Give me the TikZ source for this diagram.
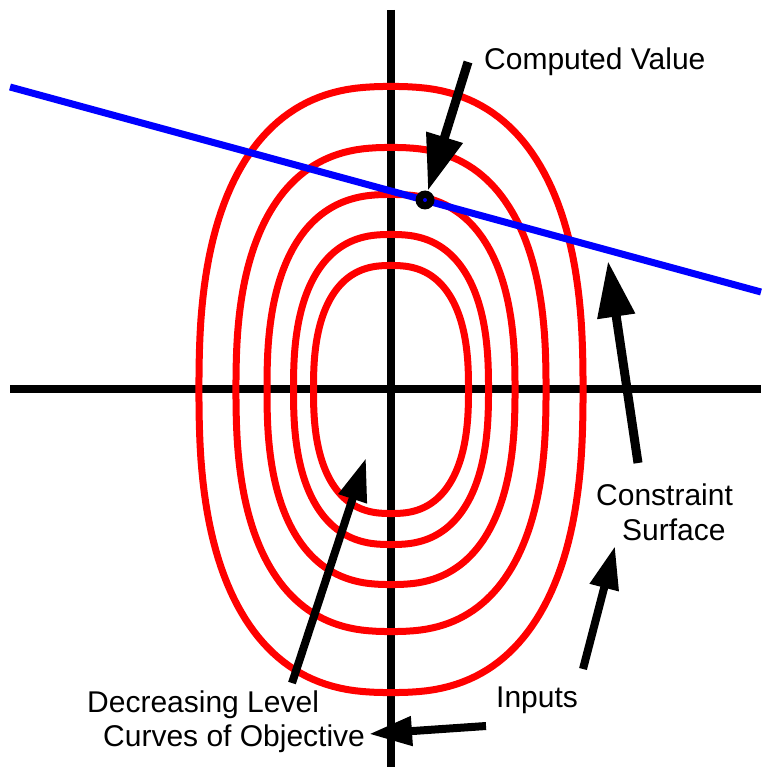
\documentclass[tikz,border=0pt]{standalone}
\usepackage{fontspec}
\setmainfont{Liberation Sans}
\usepackage{tikz}
\usetikzlibrary{arrows.meta}

\begin{document}
\begin{tikzpicture}[
  x=1pt, y=-1pt,
  axis/.style={line width=8pt},
  level/.style={red, line width=7pt, line join=round},
  constraint/.style={blue, line width=7pt},
  optimum/.style={circle, fill=black, inner sep=0pt, minimum size=19pt},
  txt/.style={font=\fontsize{30}{34}\selectfont, inner sep=0pt, anchor=base west},
  bigarrow/.style={-{Triangle[length=56pt,width=36pt]}, line width=9pt},
  arrow/.style={-{Triangle[length=43pt,width=28pt]}, line width=8pt}
]
\useasboundingbox (0,0) rectangle (761,767);

% axes
\draw[axis] (391,10) -- (391,767);
\draw[axis] (10,389) -- (761,389);

% level curves
\draw[level] plot[domain=1:361, samples=181] ({391+192*sign(cos(\x))*pow(abs(cos(\x)),0.8)}, {389.5+303*sign(sin(\x))*pow(abs(sin(\x)),0.8)}) -- cycle;
\draw[level] plot[domain=1:361, samples=181] ({391+155*sign(cos(\x))*pow(abs(cos(\x)),0.8)}, {389.5+242*sign(sin(\x))*pow(abs(sin(\x)),0.8)}) -- cycle;
\draw[level] plot[domain=1:361, samples=181] ({391+124*sign(cos(\x))*pow(abs(cos(\x)),0.8)}, {389.5+195*sign(sin(\x))*pow(abs(sin(\x)),0.8)}) -- cycle;
\draw[level] plot[domain=1:361, samples=181] ({391+97.5*sign(cos(\x))*pow(abs(cos(\x)),0.8)}, {389.5+155*sign(sin(\x))*pow(abs(sin(\x)),0.8)}) -- cycle;
\draw[level] plot[domain=1:361, samples=181] ({391+77.5*sign(cos(\x))*pow(abs(cos(\x)),0.8)}, {389.5+124*sign(sin(\x))*pow(abs(sin(\x)),0.8)}) -- cycle;

% constraint surface
\draw[constraint] (10,87) -- (761,292);
\node[optimum] (opt) at (425,200) {};
\fill[blue] (opt) circle (2pt);

% labels
\node[txt] (computed) at (484,70) {Computed Value};
\node[txt] (constr) at (596,505) {Constraint};
\node[txt] (surface) at (622,540) {Surface};
\node[txt] (inputs) at (496,707) {Inputs};
\node[txt] (decr) at (87,712) {Decreasing Level};
\node[txt] (curves) at (103,746) {Curves of Objective};

% pointers
\coordinate (cvtail) at (468,62);
\coordinate (cstail) at (638,463);
\coordinate (cshead) at (608,261);
\coordinate (intail) at (583,669);
\coordinate (inhead) at (615,546);
\coordinate (lvtail) at (292,683);
\coordinate (lvhead) at (366,458);
\coordinate (objtail) at (486,726);
\coordinate (objhead) at (369,734);

\draw[bigarrow] (cvtail) -- (opt);
\draw[bigarrow] (cstail) -- (cshead);
\draw[arrow] (intail) -- (inhead);
\draw[arrow] (lvtail) -- (lvhead);
\draw[arrow] (objtail) -- (objhead);
\end{tikzpicture}
\end{document}
